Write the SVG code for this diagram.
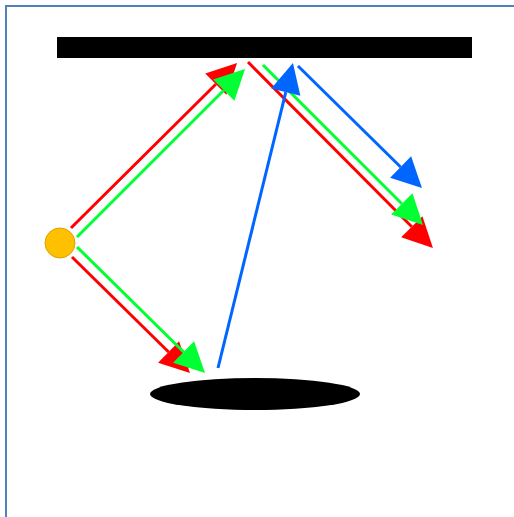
<svg xmlns="http://www.w3.org/2000/svg" width="514" height="517" viewBox="0 0 514 517">
<style>
.ln{fill:none;stroke-width:3}
.r{stroke:#FF0000}.g{stroke:#00FF33}.b{stroke:#0066FF}
</style>
<defs>
<marker id="ar" viewBox="0 0 30 30" refX="0" refY="15" markerWidth="30" markerHeight="30" markerUnits="userSpaceOnUse" orient="auto" overflow="visible"><path d="M0,0 L30,15 L0,30 z" fill="#FF0000"/></marker>
<marker id="ag" viewBox="0 0 30 30" refX="0" refY="15" markerWidth="30" markerHeight="30" markerUnits="userSpaceOnUse" orient="auto" overflow="visible"><path d="M0,0 L30,15 L0,30 z" fill="#00FF33"/></marker>
<marker id="ab" viewBox="0 0 30 30" refX="0" refY="15" markerWidth="30" markerHeight="30" markerUnits="userSpaceOnUse" orient="auto" overflow="visible"><path d="M0,0 L30,15 L0,30 z" fill="#0066FF"/></marker>
</defs>
<rect width="514" height="517" fill="#fff"/>
<path d="M6,517 V6 H514" fill="none" stroke="#4F81BD" stroke-width="2"/>
<g id="mirror"><rect x="57" y="37" width="415" height="21" fill="#000"/></g>
<g id="disc"><ellipse cx="255" cy="394" rx="105" ry="16" fill="#000"/></g>
<g id="source"><circle cx="60" cy="243" r="15" fill="#FFC000" stroke="#D9A300" stroke-width="1"/></g>
<g id="connectors">
<line class="ln r" x1="71" y1="228" x2="215.8" y2="84.2" marker-end="url(#ar)"/>
<line class="ln g" x1="77" y1="237" x2="223.8" y2="90.2" marker-end="url(#ag)"/>
<line class="ln r" x1="72" y1="257" x2="168.6" y2="352" marker-end="url(#ar)"/>
<line class="ln g" x1="77" y1="247" x2="183.6" y2="352" marker-end="url(#ag)"/>
<line class="ln r" x1="248" y1="62" x2="411.8" y2="226.8" marker-end="url(#ar)"/>
<line class="ln g" x1="263" y1="65" x2="401.8" y2="203.8" marker-end="url(#ag)"/>
<line class="ln b" x1="298" y1="66" x2="400.6" y2="167" marker-end="url(#ab)"/>
<line class="ln b" x1="218" y1="368" x2="285.8" y2="92.1" marker-end="url(#ab)"/>
</g>
</svg>
